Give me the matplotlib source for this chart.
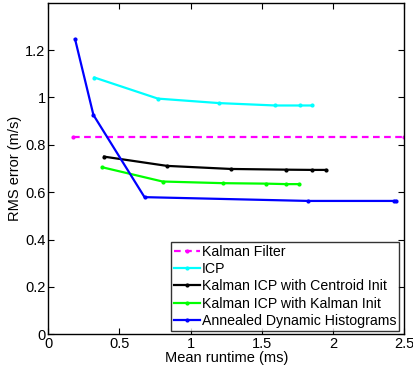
import matplotlib
matplotlib.use("Agg")
import matplotlib.pyplot as plt

plt.rcParams['font.family'] = ['Liberation Sans', 'DejaVu Sans']

kf_x = [0.172, 2.5]
kf_y = [0.835, 0.835]

icp_x = [0.324, 0.770, 1.202, 1.596, 1.766, 1.850]
icp_y = [1.084, 0.995, 0.976, 0.966, 0.966, 0.966]

kc_x = [0.392, 0.834, 1.284, 1.672, 1.855, 1.949]
kc_y = [0.750, 0.711, 0.698, 0.695, 0.694, 0.694]

kk_x = [0.380, 0.803, 1.228, 1.533, 1.672, 1.761]
kk_y = [0.705, 0.645, 0.638, 0.636, 0.634, 0.634]

adh_x = [0.188, 0.317, 0.676, 1.827, 2.430, 2.442]
adh_y = [1.246, 0.926, 0.579, 0.563, 0.563, 0.563]

labels = ["Kalman Filter", "ICP", "Kalman ICP with Centroid Init",
          "Kalman ICP with Kalman Init", "Annealed Dynamic Histograms"]

fig = plt.figure(figsize=(4.14, 3.68), dpi=100)
ax = fig.add_axes([0.1167, 0.0916, 0.976 - 0.1167, 0.9927 - 0.0916])

lw = 1.6
ms = 4
ax.plot(kf_x, kf_y, color='#ff00ff', lw=lw, ls=(0, (3, 2)), marker='.', ms=ms, label=labels[0])
ax.plot(icp_x, icp_y, color='#00ffff', lw=lw, marker='.', ms=ms, label=labels[1])
ax.plot(kc_x, kc_y, color='black', lw=lw, marker='.', ms=ms, label=labels[2])
ax.plot(kk_x, kk_y, color='#00ff00', lw=lw, marker='.', ms=ms, label=labels[3])
ax.plot(adh_x, adh_y, color='#0000ff', lw=lw, marker='.', ms=ms, label=labels[4])

ax.set_xlim(0, 2.5)
ax.set_ylim(0, 1.4)
ax.set_xticks([0, 0.5, 1, 1.5, 2, 2.5])
ax.set_xticklabels(['0', '0.5', '1', '1.5', '2', '2.5'])
ax.set_yticks([0, 0.2, 0.4, 0.6, 0.8, 1.0, 1.2])
ax.set_yticklabels(['0', '0.2', '0.4', '0.6', '0.8', '1', '1.2'])
ax.tick_params(direction='in', top=True, right=True, labelsize=10.5, length=4, width=0.8, pad=2)
for s in ax.spines.values():
    s.set_linewidth(1.0)

ax.set_xlabel('Mean runtime (ms)', fontsize=10.5, labelpad=0)
ax.set_ylabel('RMS error (m/s)', fontsize=10.5, labelpad=2)

leg = ax.legend(loc='lower right', bbox_to_anchor=(0.986, 0.01), fontsize=10.2, frameon=True,
                fancybox=False, edgecolor='black', borderpad=0.2, labelspacing=0.24,
                handlelength=1.8, handletextpad=0.15, borderaxespad=0.0)
leg.get_frame().set_linewidth(1.0)

fig.savefig('out.png', dpi=100)
